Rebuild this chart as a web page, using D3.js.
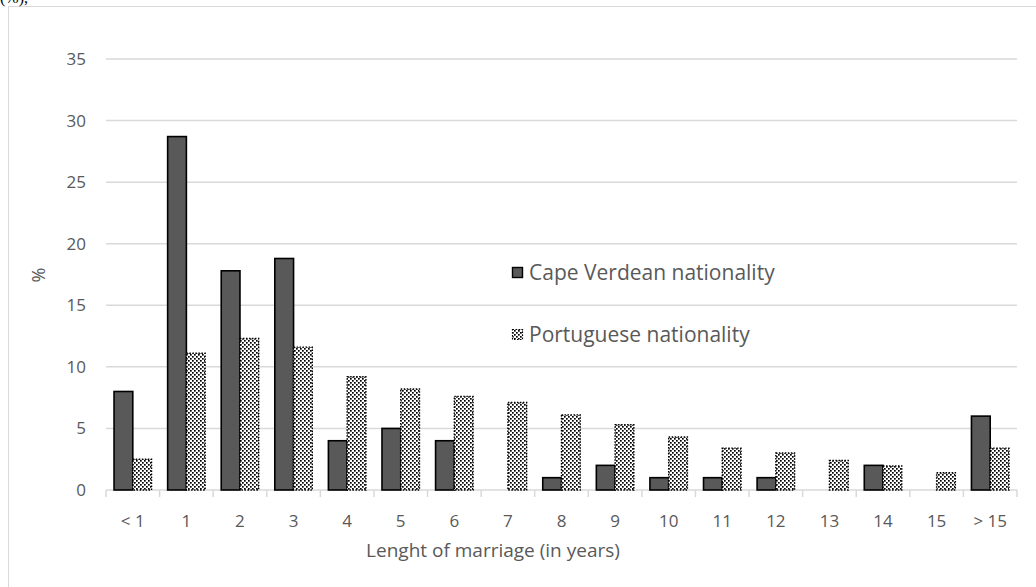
<!DOCTYPE html>
<html>
<head>
<meta charset="utf-8">
<script src="https://cdn.jsdelivr.net/npm/d3@7"></script>
<style>
  html, body { margin: 0; padding: 0; background: #fff; }
  svg { display: block; }
  text { font-family: "Open Sans", "Noto Sans", sans-serif; fill: #595959; }
</style>
</head>
<body>
<svg id="chart" width="1036" height="587"></svg>
<script>
// Length of marriage categories and share (%) by nationality
const categories = ["< 1", "1", "2", "3", "4", "5", "6", "7", "8", "9", "10", "11", "12", "13", "14", "15", "> 15"];
const capeVerdean = [8, 28.7, 17.8, 18.8, 4, 5, 4, 0, 1, 2, 1, 1, 1, 0, 2, 0, 6];
const portuguese  = [2.5, 11.1, 12.3, 11.6, 9.2, 8.2, 7.6, 7.1, 6.1, 5.3, 4.3, 3.4, 3.0, 2.4, 1.95, 1.4, 3.4];
const seriesNames = ["Cape Verdean nationality", "Portuguese nationality"];
const yTicks = [0, 5, 10, 15, 20, 25, 30, 35];

const svg = d3.select("#chart");

// dotted fill for the Portuguese series
const defs = svg.append("defs");
const pat = defs.append("pattern")
  .attr("id", "dots").attr("patternUnits", "userSpaceOnUse")
  .attr("width", 4).attr("height", 4);
pat.append("rect").attr("width", 4).attr("height", 4).attr("fill", "#fff");
pat.append("rect").attr("x", 0).attr("y", 0).attr("width", 1.7).attr("height", 1.7).attr("fill", "#000");
pat.append("rect").attr("x", 2).attr("y", 2).attr("width", 1.7).attr("height", 1.7).attr("fill", "#000");

// outer frame and caption fragment
svg.append("rect").attr("x", 8.5).attr("y", 6.5).attr("width", 1200).attr("height", 800)
  .attr("fill", "none").attr("stroke", "#d9d9d9").attr("stroke-width", 1);
svg.append("text").attr("x", 0).attr("y", 3)
  .style("font-family", "'Liberation Serif', serif").style("fill", "#000")
  .style("font-size", "16px").text("(%),");

const plotLeft = 106, plotRight = 1017, plotTop = 59, plotBottom = 490;

const x = d3.scaleBand().domain(categories).range([plotLeft, plotRight]).paddingInner(0).paddingOuter(0);
const y = d3.scaleLinear().domain([0, 35]).range([plotBottom, plotTop]);
const groupW = 37.5;
const xs = d3.scaleBand().domain([0, 1]).range([0, groupW]);

// gridlines
svg.append("g").selectAll("line").data(yTicks.filter(d => d > 0)).join("line")
  .attr("x1", plotLeft).attr("x2", plotRight)
  .attr("y1", d => y(d)).attr("y2", d => y(d))
  .attr("stroke", "#d9d9d9").attr("stroke-width", 1.5);

// y tick labels
svg.append("g").selectAll("text").data(yTicks).join("text")
  .attr("x", 86).attr("y", d => y(d)).attr("dy", "0.35em")
  .attr("text-anchor", "end").style("font-size", "17px")
  .text(d => d);

// x axis line and ticks
const xa = svg.append("g");
xa.append("line").attr("x1", plotLeft).attr("x2", plotRight).attr("y1", plotBottom).attr("y2", plotBottom)
  .attr("stroke", "#d9d9d9").attr("stroke-width", 1.5);
const edges = categories.map(c => x(c)).concat([x(categories[categories.length - 1]) + x.bandwidth()]);
xa.selectAll("line.tk").data(edges).join("line").attr("class", "tk")
  .attr("x1", d => d).attr("x2", d => d).attr("y1", plotBottom).attr("y2", plotBottom + 7)
  .attr("stroke", "#d9d9d9").attr("stroke-width", 1.5);
xa.selectAll("text").data(categories).join("text")
  .attr("x", d => x(d) + x.bandwidth() / 2).attr("y", 527)
  .attr("text-anchor", "middle").style("font-size", "17px")
  .text(d => d);

// bars
const offset = (x.bandwidth() - groupW) / 2;
const g = svg.append("g");
g.selectAll("rect.cv").data(categories).join("rect").attr("class", "cv")
  .attr("x", (d, i) => x(d) + offset + xs(0))
  .attr("y", (d, i) => y(capeVerdean[i]))
  .attr("width", xs.bandwidth())
  .attr("height", (d, i) => y(0) - y(capeVerdean[i]))
  .attr("fill", "#595959").attr("stroke", "#000").attr("stroke-width", 1.6)
  .attr("display", (d, i) => capeVerdean[i] > 0 ? null : "none");
g.selectAll("rect.pt").data(categories).join("rect").attr("class", "pt")
  .attr("x", (d, i) => x(d) + offset + xs(1))
  .attr("y", (d, i) => y(portuguese[i]))
  .attr("width", xs.bandwidth())
  .attr("height", (d, i) => y(0) - y(portuguese[i]))
  .attr("fill", "url(#dots)").attr("stroke", "#000").attr("stroke-width", 1.4)
  .attr("stroke-dasharray", "1.5,1.5");

// axis titles
svg.append("text").attr("x", 493).attr("y", 557).attr("text-anchor", "middle")
  .style("font-size", "19px").text("Lenght of marriage (in years)");
svg.append("text").attr("transform", "translate(45,275) rotate(-90)")
  .attr("text-anchor", "middle").style("font-size", "18px").text("%");

// legend
const lg = svg.append("g");
lg.append("rect").attr("x", 512.5).attr("y", 267.5).attr("width", 10).attr("height", 10)
  .attr("fill", "#595959").attr("stroke", "#000").attr("stroke-width", 1.4);
lg.append("text").attr("x", 529).attr("y", 280).style("font-size", "21px").text(seriesNames[0]);
lg.append("rect").attr("x", 512.5).attr("y", 329.5).attr("width", 10).attr("height", 10)
  .attr("fill", "url(#dots)").attr("stroke", "#000").attr("stroke-width", 1.2)
  .attr("stroke-dasharray", "1.5,1.5");
lg.append("text").attr("x", 529).attr("y", 342).style("font-size", "21px").text(seriesNames[1]);
</script>
</body>
</html>
